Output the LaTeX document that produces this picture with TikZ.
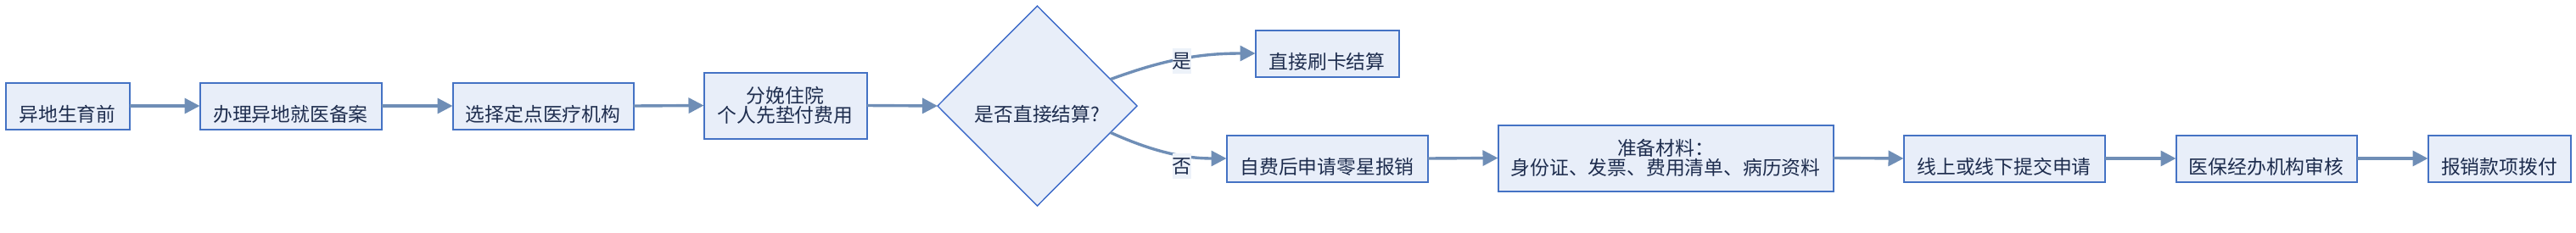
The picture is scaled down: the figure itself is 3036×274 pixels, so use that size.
\documentclass[tikz,border=0pt]{standalone}
\usepackage{fontspec}
\newfontfamily\cjk{Noto Sans CJK SC}
\usetikzlibrary{shapes.geometric,arrows.meta}
\definecolor{boxfill}{HTML}{E8EEF9}
\definecolor{boxline}{HTML}{4472C4}
\definecolor{dline}{HTML}{3A68C8}
\definecolor{arr}{HTML}{6F8EB6}
\definecolor{txt}{HTML}{1E2D4E}
\definecolor{lblbg}{HTML}{EDF2F9}
\begin{document}
\begin{tikzpicture}[x=0.5pt,y=-0.5pt,
  every node/.style={font=\cjk\fontsize{11.4pt}{11.25pt}\selectfont, text=txt},
  flowbox/.style={draw=boxline, fill=boxfill, line width=1pt, inner sep=0pt, outer sep=0pt, align=center},
  onel/.style={text height=18.2pt, text depth=0pt},
  decision/.style={diamond, draw=dline, fill=boxfill, line width=0.7pt, inner sep=0pt, outer sep=0pt, minimum width=117.5pt, minimum height=118pt},
  flow/.style={draw=arr, line width=1.7pt, -{Triangle[length=9pt,width=9pt]}},
  lbl/.style={fill=lblbg, inner sep=0pt, minimum width=11.3pt, minimum height=15pt}
]
\useasboundingbox (0,0) rectangle (3036,274);
\node[flowbox,onel,minimum width=73pt,minimum height=27.5pt] (b1) at (79.5,125) {异地生育前};
\node[flowbox,onel,minimum width=107pt,minimum height=27.5pt] (b2) at (342.5,125) {办理异地就医备案};
\node[flowbox,onel,minimum width=106.5pt,minimum height=27.5pt] (b3) at (640,125) {选择定点医疗机构};
\node[flowbox,minimum width=96pt,minimum height=39pt] (b4) at (925.5,124.5) {分娩住院\\个人先垫付费用};
\node[decision,onel] (d) at (1222.5,125) {是否直接结算?};
\node[flowbox,onel,minimum width=84.5pt,minimum height=27.5pt] (b5) at (1564,63) {直接刷卡结算};
\node[flowbox,onel,minimum width=118.5pt,minimum height=27.5pt] (b6) at (1564,187) {自费后申请零星报销};
\node[flowbox,minimum width=197.5pt,minimum height=39pt] (b7) at (1963,186.5) {准备材料：\\身份证、发票、费用清单、病历资料};
\node[flowbox,onel,minimum width=118.5pt,minimum height=27.5pt] (b8) at (2362,187) {线上或线下提交申请};
\node[flowbox,onel,minimum width=106.5pt,minimum height=27.5pt] (b9) at (2671,187) {医保经办机构审核};
\node[flowbox,onel,minimum width=84pt,minimum height=27.5pt] (b10) at (2945.5,187) {报销款项拨付};

\draw[flow] (b1.east) -- (b2.west);
\draw[flow] (b2.east) -- (b3.west);
\draw[flow] (b3.east) -- (b4.west);
\draw[flow] (b4.east) -- (d.west);
\draw[flow] (d.20) .. controls +(60,-22) and +(-69,0) .. (b5.west);
\draw[flow] (d.-20) .. controls +(55,25) and +(-45,0) .. (b6.west);
\draw[flow] (b6.east) -- (b7.west);
\draw[flow] (b7.east) -- (b8.west);
\draw[flow] (b8.east) -- (b9.west);
\draw[flow] (b9.east) -- (b10.west);

\node[lbl] (yes) at (1393,72) {是};
\node[lbl] (no) at (1393,196) {否};
\end{tikzpicture}
\end{document}
